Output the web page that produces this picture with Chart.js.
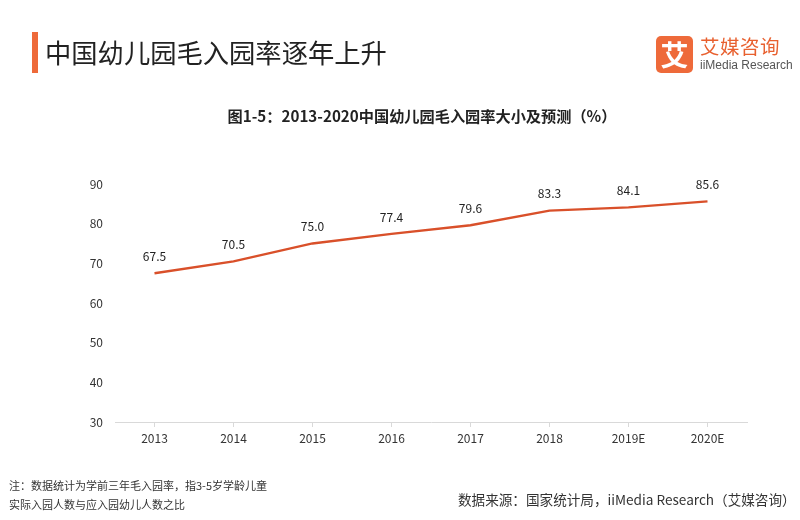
<!DOCTYPE html>
<html><head><meta charset="utf-8">
<script src="https://cdn.jsdelivr.net/npm/chart.js@4"></script>
<style>
html,body{margin:0;padding:0;background:#fff;width:800px;height:520px;overflow:hidden;font-family:"Noto Sans CJK SC","Noto Sans",sans-serif;}
#wrap{position:absolute;left:0;top:0;width:800px;height:520px;}
.abs{position:absolute;white-space:nowrap;}
</style></head><body>
<div id="wrap"><canvas id="c" width="800" height="520"></canvas></div>
<div class="abs" style="left:32px;top:32px;width:6px;height:41px;background:#ee6a3a;"></div>
<div class="abs" style="left:45px;top:33px;font-size:26.3px;color:#222;line-height:38px;">中国幼儿园毛入园率逐年上升</div>
<div class="abs" style="left:656px;top:36px;width:37px;height:37px;background:#ee6a3a;border-radius:5px;color:#fff;font-size:28px;line-height:37px;text-align:center;font-weight:bold;">艾</div>
<div class="abs" style="left:700px;top:34px;font-size:19.5px;color:#e8602f;line-height:24px;letter-spacing:0.5px;">艾媒咨询</div>
<div class="abs" style="left:700px;top:58px;font-size:12px;color:#555;line-height:14px;font-family:'Liberation Sans',Arial,sans-serif;">iiMedia Research</div>
<div class="abs" style="left:0;width:844px;top:104px;text-align:center;font-size:15.2px;font-weight:bold;color:#222;">图1-5：2013-2020中国幼儿园毛入园率大小及预测（%）</div>
<div class="abs" style="left:9px;top:477px;font-size:11px;color:#333;">注：数据统计为学前三年毛入园率，指3-5岁学龄儿童</div>
<div class="abs" style="left:9px;top:496px;font-size:11px;color:#333;">实际入园人数与应入园幼儿人数之比</div>
<div class="abs" style="left:458px;top:489px;font-size:13.6px;color:#333;">数据来源：国家统计局，iiMedia Research（艾媒咨询）</div>
<script>
const categories = ["2013","2014","2015","2016","2017","2018","2019E","2020E"];
const rates = [67.5, 70.5, 75.0, 77.4, 79.6, 83.3, 84.1, 85.6];
const yTicks = [30, 40, 50, 60, 70, 80, 90];

const labelPlugin = {
  id: 'vlabels',
  afterDatasetsDraw(chart) {
    const ctx = chart.ctx;
    const meta = chart.getDatasetMeta(0);
    ctx.save();
    ctx.font = '12px "Noto Sans CJK SC", sans-serif';
    ctx.fillStyle = '#222';
    ctx.textAlign = 'center';
    ctx.textBaseline = 'middle';
    meta.data.forEach((pt, i) => {
      ctx.fillText(rates[i].toFixed(1), pt.x, pt.y - 17);
    });
    ctx.restore();
  }
};

new Chart(document.getElementById('c'), {
  type: 'line',
  data: {
    labels: categories,
    datasets: [{
      data: rates,
      borderColor: '#d9502a',
      borderWidth: 2.3,
      pointRadius: 0,
      tension: 0,
      fill: false
    }]
  },
  options: {
    responsive: false,
    animation: false,
    devicePixelRatio: 1,
    layout: { padding: { left: 65, right: 53, top: 184, bottom: 68 } },
    plugins: { legend: { display: false }, tooltip: { enabled: false } },
    scales: {
      x: {
        offset: true,
        afterFit(s) { s.height = 30; },
        grid: { offset: false, drawOnChartArea: false, drawTicks: true, tickLength: 5, color: '#d9d9d9' },
        border: { display: true, color: '#d9d9d9', width: 1 },
        ticks: { color: '#333', font: { size: 12, family: '"Noto Sans CJK SC", sans-serif' }, padding: 4 }
      },
      y: {
        min: 30, max: 90,
        afterFit(s) { s.width = 50; },
        afterBuildTicks(s) { s.ticks = yTicks.map(v => ({ value: v })); },
        grid: { display: false, drawTicks: false },
        border: { display: false },
        ticks: { color: '#333', font: { size: 12, family: '"Noto Sans CJK SC", sans-serif' }, padding: 12 }
      }
    }
  },
  plugins: [labelPlugin]
});
</script>
</body></html>
